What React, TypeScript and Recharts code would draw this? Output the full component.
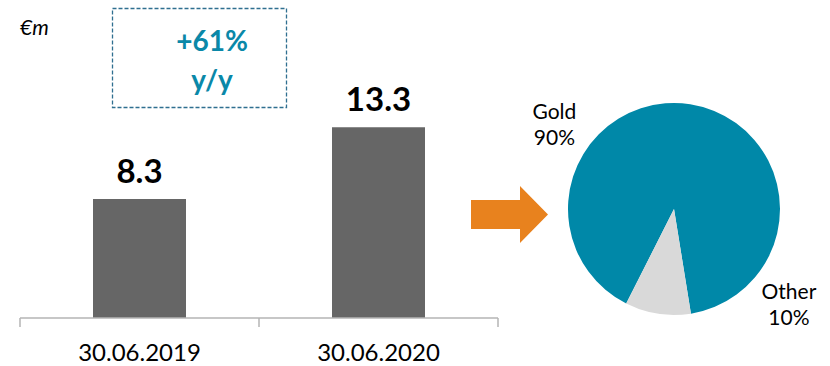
import React from 'react';
import { BarChart, Bar, XAxis, YAxis, LabelList, PieChart, Pie, Cell } from 'recharts';

// values
const categories = ['30.06.2019', '30.06.2020'];
const values = [8.3, 13.3];
const growthText = ['+61%', 'y/y'];
const unitText = '€m';
const mixNames = ['Gold', 'Other'];
const mixShares = [90, 10];

const FONT = 'Lato, "Open Sans", sans-serif';
const TEAL = '#0a88a8';
const AXIS = '#b5b5b5';

const barData = categories.map((name, i) => ({ pos: i + 0.5, name, value: values[i] }));
const pieData = mixNames.map((name, i) => ({ name, value: mixShares[i] }));
const pieColors = ['#0088a8', '#d9d9d9'];
// where the two pie labels sit round the pie (degrees, distance past the rim)
const labelAngles = [145, -40];
const labelGaps = [40, 44];

function AxisTick(props: any) {
  const { x, y, payload } = props;
  const v = payload.value;
  if (Number.isInteger(v)) {
    return <line x1={x} y1={y - 9} x2={x} y2={y} stroke={AXIS} strokeWidth={1.5} />;
  }
  return (
    <text x={x} y={y + 34} textAnchor="middle" fontFamily={FONT} fontSize={24} fill="#000">
      {categories[Math.floor(v)]}
    </text>
  );
}

function PieLabel(props: any) {
  const { cx, cy, outerRadius, index, name, value } = props;
  const a = (labelAngles[index] * Math.PI) / 180;
  const d = outerRadius + labelGaps[index];
  const x = cx + d * Math.cos(a);
  const y = cy - d * Math.sin(a);
  return (
    <text x={x} y={y - 6} textAnchor="middle" fontFamily={FONT} fontSize={21} fill="#000">
      <tspan x={x}>{name}</tspan>
      <tspan x={x} dy={26}>{`${value}%`}</tspan>
    </text>
  );
}

export default function App() {
  return (
    <div style={{ position: 'absolute', left: 0, top: 0, width: 830, height: 366, background: '#fff', fontFamily: FONT }}>
      <div style={{ position: 'absolute', left: 0, top: 0 }}>
        <BarChart width={520} height={366} data={barData} margin={{ top: 103, right: 22, bottom: 0, left: 20 }}>
          <YAxis hide domain={[0, 15]} />
          <XAxis
            dataKey="pos"
            type="number"
            domain={[0, 2]}
            ticks={[0, 0.5, 1, 1.5, 2]}
            interval={0}
            height={48}
            tickSize={9}
            tickMargin={0}
            tickLine={false}
            axisLine={{ stroke: AXIS, strokeWidth: 1.5 }}
            tick={<AxisTick />}
          />
          <Bar dataKey="value" fill="#666666" barSize={93} isAnimationActive={false}>
            <LabelList
              dataKey="value"
              position="top"
              offset={16}
              fill="#000"
              fontFamily={FONT}
              fontSize={33}
              fontWeight={700}
            />
          </Bar>
        </BarChart>
      </div>

      <div style={{ position: 'absolute', left: 500, top: 60 }}>
        <PieChart width={330} height={300} margin={{ top: 0, right: 0, bottom: 0, left: 0 }}>
          <Pie
            data={pieData}
            dataKey="value"
            nameKey="name"
            cx={174}
            cy={149}
            outerRadius={106}
            startAngle={-80.8}
            endAngle={279.2}
            stroke="none"
            labelLine={false}
            label={<PieLabel />}
            isAnimationActive={false}
          >
            {pieData.map((d, i) => (
              <Cell key={d.name} fill={pieColors[i]} />
            ))}
          </Pie>
        </PieChart>
      </div>

      <svg width={830} height={366} style={{ position: 'absolute', left: 0, top: 0, pointerEvents: 'none' }}>
        <text x={20} y={35} fontFamily={FONT} fontStyle="italic" fontSize={21} fill="#000">
          {unitText}
        </text>
        <rect x={112.5} y={8.5} width={174} height={99} fill="none" stroke="#2f6f90" strokeWidth={1.3} strokeDasharray="4 2" />
        <text x={212} y={51} textAnchor="middle" fontFamily={FONT} fontWeight={700} fontSize={28} fill={TEAL}>
          {growthText[0]}
        </text>
        <text x={212} y={90} textAnchor="middle" fontFamily={FONT} fontWeight={700} fontSize={28} fill={TEAL}>
          {growthText[1]}
        </text>
        <polygon points="471,200 520,200 520,186 548,214.5 520,243 520,229 471,229" fill="#e8821e" />
      </svg>
    </div>
  );
}
